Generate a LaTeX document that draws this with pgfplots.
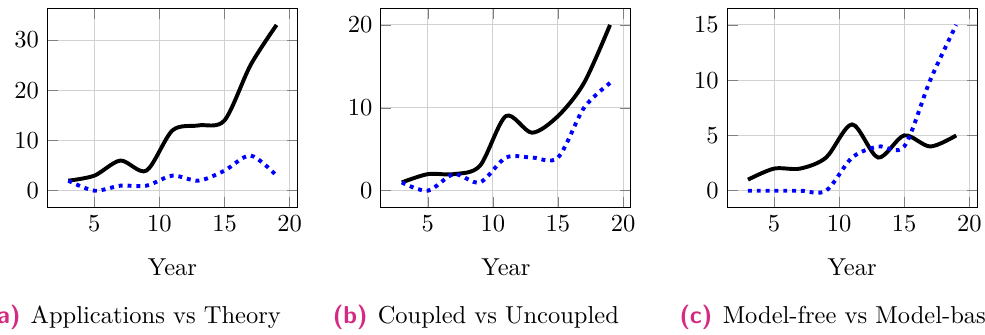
\documentclass[border=0pt]{standalone}
\usepackage{pgfplots}
\usepackage{pgfplotstable}
\pgfplotsset{compat=1.18}
\definecolor{capmag}{RGB}{212,42,132}

% Series: black = first named quantity, blue dotted = second
\pgfplotstableread{
x a1 a2 b1 b2 c1 c2
3  2  2  1 1 1 0
5  3  0  2 0 2 0
7  6  1  2 2 2 0
9  4  1  3 1 3 0
11 12 3  9 4 6 3
13 13 2  7 4 3 4
15 14 4  9 4 5 4
17 25 7  13 10 4 10
19 33 3  20 13 5 15
}\trends

\pgfplotsset{
  panel/.style={
    scale only axis, width=102pt, height=81.2pt,
    grid=major,
    major grid style={thin, black!18},
    xtick={5,10,15,20},
    xlabel={Year},
    every axis x label/.style={at={(axis description cs:0.5,0)}, anchor=base, yshift=-28.04pt},
  },
  firstline/.style={black, ultra thick, smooth, no markers},
  secondline/.style={blue, ultra thick, dotted, smooth, no markers},
}

\begin{document}
\begin{tikzpicture}
\useasboundingbox (0,0) rectangle (402.04pt,136.33pt);
\clip (0,0) rectangle (402.04pt,136.33pt);

% (a)
\begin{axis}[panel, at={(19.39pt,51.72pt)}, anchor=south west, ytick={0,10,20,30}]
  \addplot[firstline] table[x=x, y=a1] {\trends};
  \addplot[secondline] table[x=x, y=a2] {\trends};
\end{axis}

% (b)
\begin{axis}[panel, at={(155.5pt,51.72pt)}, anchor=south west, ytick={0,10,20}]
  \addplot[firstline] table[x=x, y=b1] {\trends};
  \addplot[secondline] table[x=x, y=b2] {\trends};
\end{axis}

% (c)
\begin{axis}[panel, at={(296.8pt,51.72pt)}, anchor=south west, ytick={0,5,10,15}]
  \addplot[firstline] table[x=x, y=c1] {\trends};
  \addplot[secondline] table[x=x, y=c2] {\trends};
\end{axis}

% sub-captions
\node[anchor=base west, inner sep=0pt] at (12.33pt,4.37pt) {Applications vs Theory};
\node[anchor=base east, inner sep=0pt, text=capmag, font=\sffamily\bfseries] at (8.6pt,4.37pt) {(a)};
\node[anchor=base west, inner sep=0pt] at (154.0pt,4.37pt) {Coupled vs Uncoupled};
\node[anchor=base east, inner sep=0pt, text=capmag, font=\sffamily\bfseries] at (150.2pt,4.37pt) {(b)};
\node[anchor=base west, inner sep=0pt] at (294.8pt,4.37pt) {Model-free vs Model-based};
\node[anchor=base east, inner sep=0pt, text=capmag, font=\sffamily\bfseries] at (291.0pt,4.37pt) {(c)};
\end{tikzpicture}
\end{document}
